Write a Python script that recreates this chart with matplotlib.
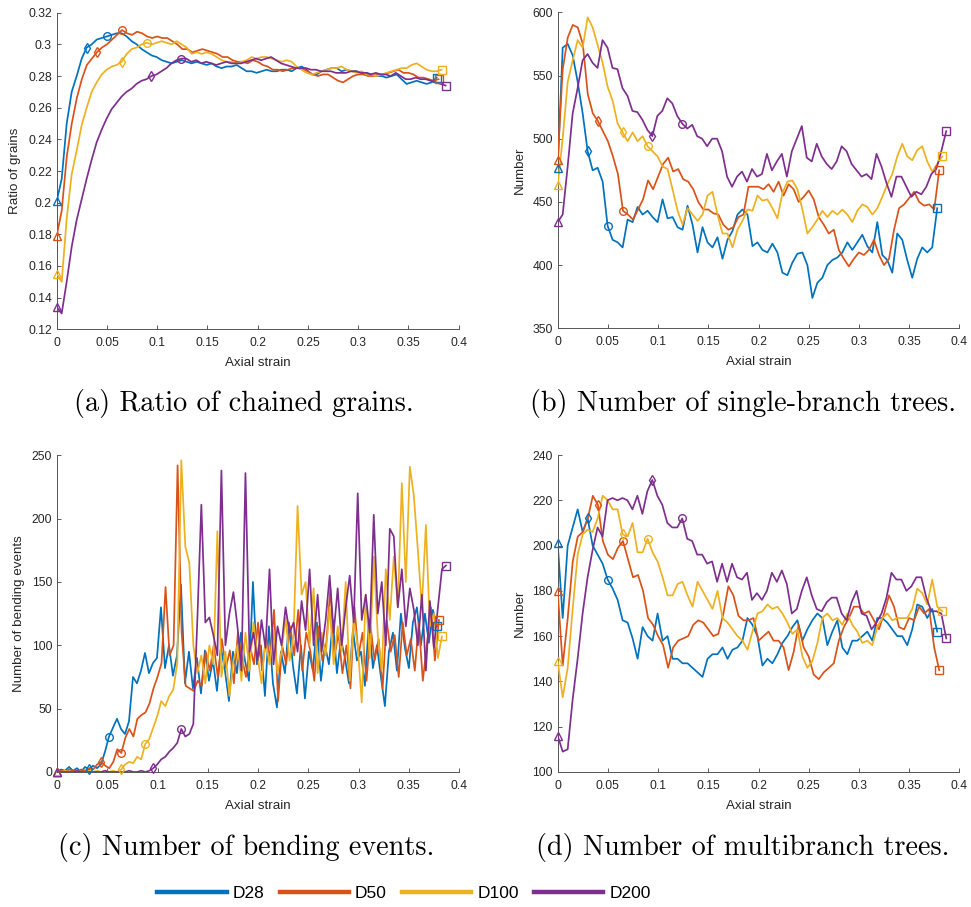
import numpy as np
import matplotlib
matplotlib.use('Agg')
import matplotlib.pyplot as plt
from matplotlib.lines import Line2D

# ---------------- data ----------------
series_names = ['D28', 'D50', 'D100', 'D200']
colors = ['#0072BD', '#D95319', '#EDB120', '#7E2F8E']
end_strain = [0.378, 0.380, 0.383, 0.387]
diamond_strain = [0.030, 0.042, 0.063, 0.095]
circle_strain = [0.050, 0.066, 0.088, 0.122]

# (a) ratio of chained grains
ratio_D28 = [0.201,0.215,0.250,0.270,0.280,0.291,0.298,0.300,0.303,0.304,
             0.305,0.306,0.307,0.307,0.305,0.302,0.300,0.297,0.295,0.293,
             0.292,0.290,0.289,0.288,0.289,0.290,0.289,0.288,0.289,0.288,
             0.287,0.288,0.286,0.285,0.286,0.286,0.287,0.285,0.283,0.283,
             0.282,0.283,0.284,0.283,0.283,0.284,0.284,0.283,0.285,0.286,
             0.284,0.281,0.281,0.283,0.284,0.285,0.285,0.283,0.284,0.283,
             0.283,0.282,0.282,0.281,0.280,0.280,0.279,0.280,0.281,0.278,
             0.275,0.276,0.277,0.276,0.275,0.276,0.279]
ratio_D50 = [0.179,0.195,0.229,0.250,0.266,0.278,0.287,0.291,0.295,0.298,
             0.300,0.303,0.306,0.309,0.307,0.306,0.308,0.307,0.305,0.304,
             0.305,0.304,0.304,0.302,0.300,0.297,0.297,0.295,0.296,0.297,
             0.296,0.295,0.294,0.292,0.292,0.290,0.289,0.289,0.288,0.290,
             0.289,0.287,0.286,0.284,0.284,0.283,0.284,0.285,0.285,0.284,
             0.283,0.281,0.280,0.281,0.281,0.279,0.277,0.276,0.278,0.280,
             0.281,0.281,0.280,0.280,0.281,0.281,0.282,0.283,0.284,0.282,
             0.282,0.281,0.279,0.279,0.278,0.277,0.278]
ratio_D100 = [0.155,0.150,0.190,0.218,0.233,0.249,0.260,0.270,0.276,0.281,
              0.284,0.286,0.287,0.289,0.294,0.297,0.298,0.300,0.301,0.300,
              0.301,0.302,0.301,0.300,0.302,0.300,0.298,0.294,0.295,0.294,
              0.295,0.294,0.292,0.290,0.289,0.289,0.288,0.289,0.290,0.292,
              0.291,0.292,0.292,0.291,0.290,0.289,0.290,0.289,0.286,0.284,
              0.282,0.281,0.282,0.283,0.284,0.285,0.285,0.286,0.284,0.283,
              0.282,0.283,0.281,0.281,0.280,0.281,0.282,0.283,0.284,0.285,
              0.285,0.287,0.288,0.286,0.284,0.283,0.283,0.284]
ratio_D200 = [0.134,0.130,0.150,0.172,0.189,0.202,0.215,0.227,0.238,0.246,
              0.253,0.259,0.263,0.267,0.270,0.272,0.275,0.277,0.278,0.280,
              0.281,0.283,0.285,0.288,0.290,0.291,0.291,0.289,0.290,0.288,
              0.289,0.288,0.287,0.288,0.289,0.288,0.288,0.288,0.289,0.290,
              0.291,0.290,0.291,0.292,0.290,0.288,0.287,0.286,0.285,0.285,
              0.285,0.284,0.284,0.283,0.283,0.283,0.282,0.282,0.282,0.283,
              0.283,0.282,0.282,0.281,0.282,0.281,0.281,0.280,0.282,0.280,
              0.278,0.278,0.279,0.278,0.278,0.277,0.276,0.275,0.274]

# (b) number of single-branch trees
single_D28 = [477,572,575,566,545,520,490,475,477,466,
              431,420,418,414,436,434,446,440,443,438,
              434,452,437,438,430,428,447,432,410,430,
              418,414,422,405,420,427,440,444,440,415,
              418,412,410,417,410,394,392,402,409,410,
              400,374,386,390,400,404,406,410,418,412,
              418,424,415,410,434,408,404,394,425,420,
              404,390,405,414,410,414,445]
single_D50 = [483,555,580,590,588,575,535,520,514,506,
              498,486,472,443,440,436,444,452,467,460,
              470,480,485,474,476,468,466,460,450,444,
              444,441,440,432,428,430,438,440,462,462,
              462,460,464,458,466,455,464,460,450,454,
              459,452,438,432,425,428,412,405,399,405,
              410,408,412,420,408,400,405,428,445,448,
              453,458,450,447,448,444,475]
single_D100 = [463,500,545,562,578,572,596,588,574,560,
               541,530,512,505,498,505,498,502,494,490,
               486,478,476,460,443,432,445,440,435,440,
               455,458,440,425,425,414,428,435,444,443,
               455,451,452,445,437,457,466,467,460,444,
               425,430,436,443,438,443,440,444,440,434,
               443,448,446,440,445,454,464,472,486,496,
               486,483,491,494,482,474,480,486]
single_D200 = [434,440,478,520,540,562,567,560,556,578,
               572,556,555,540,534,522,521,515,507,502,
               518,522,532,528,518,512,508,511,502,500,
               494,500,500,490,470,462,470,474,466,476,
               470,472,488,475,482,488,470,490,500,510,
               485,482,496,486,480,476,482,494,490,480,
               475,470,472,468,488,478,465,454,470,470,
               462,454,458,456,462,472,476,490,506]

# (c) number of bending events
bend_D28 = [0,2,1,4,1,3,0,4,2,5,
            3,6,16,28,35,42,34,30,40,75,
            70,80,94,78,86,90,130,82,100,76,
            92,148,70,95,66,90,62,96,72,88,
            64,98,80,56,95,78,110,88,72,150,
            85,100,60,115,70,51,95,78,118,84,
            62,100,58,95,80,118,72,100,85,120,
            78,105,90,70,112,88,95,68,120,82,
            100,75,52,95,110,80,125,98,82,118,
            130,100,125,102,128,115]
bend_D50 = [0,1,0,2,1,0,2,1,3,2,
            6,8,5,3,8,18,15,27,34,28,
            42,45,47,54,66,75,86,146,92,100,
            242,110,68,66,64,72,68,95,80,100,
            75,105,82,96,70,110,90,75,100,85,
            118,80,105,90,128,56,100,85,115,92,
            128,80,110,96,72,115,88,102,145,90,
            110,78,100,66,130,92,110,72,115,88,
            105,66,120,95,108,75,118,92,105,80,
            118,72,100,130,88,120]
bend_D100 = [0,0,1,0,0,1,0,0,1,0,
             1,0,1,0,1,0,2,6,8,7,
             12,10,22,26,35,44,56,52,60,65,
             86,246,178,165,100,78,92,70,100,85,
             190,75,95,60,88,100,72,110,80,118,
             92,70,105,85,112,78,95,122,88,108,
             210,140,150,100,145,78,110,92,130,85,
             115,95,150,72,120,100,55,140,90,170,
             108,80,160,120,170,130,228,150,241,218,
             175,130,195,115,125,90,107]
bend_D200 = [0,0,0,0,0,1,0,0,0,0,
             0,0,1,0,0,0,0,0,1,0,
             0,1,0,1,3,6,10,12,16,19,
             23,34,28,30,38,120,211,118,122,108,
             92,238,100,125,142,115,80,236,95,110,
             88,120,98,160,85,115,100,130,110,118,
             95,135,112,160,100,140,95,120,155,110,
             145,100,130,155,118,220,120,140,110,203,
             125,150,100,192,186,130,160,115,145,128,
             100,140,80,135,98,130,160,163]

# (d) number of multibranch trees
multi_D28 = [201,168,200,208,216,206,212,200,196,192,
             185,181,176,167,166,159,150,164,160,158,
             170,158,160,150,150,148,148,146,144,142,
             150,152,152,155,150,154,155,158,168,165,
             160,147,150,148,152,157,160,164,167,158,
             163,167,170,168,156,162,167,155,152,158,
             158,160,162,158,168,168,166,163,160,160,
             156,163,174,173,168,172,162]
multi_D50 = [180,147,168,193,204,206,212,222,218,202,
             196,194,199,202,194,186,187,180,168,165,
             160,156,146,155,158,159,160,165,167,166,
             163,160,161,170,182,178,169,167,167,168,
             158,160,162,158,158,155,145,153,165,155,
             151,143,141,144,146,148,158,164,168,173,
             173,170,171,167,163,170,178,173,164,163,
             168,167,173,170,172,155,145]
multi_D100 = [149,133,146,172,196,205,207,206,212,222,
              220,216,216,205,204,210,197,197,203,197,
              193,186,178,178,183,184,178,173,184,180,
              176,172,180,168,166,163,160,158,154,162,
              170,171,174,172,173,170,166,161,163,151,
              146,149,157,168,170,167,168,165,170,165,
              162,157,158,156,164,168,170,167,168,168,
              168,172,181,179,174,185,173,171]
multi_D200 = [116,109,110,132,150,170,186,198,208,204,
              220,221,220,221,220,216,222,214,224,229,
              222,218,210,208,208,212,203,202,196,196,
              192,193,184,192,184,192,186,185,188,176,
              179,176,180,188,184,189,183,170,172,180,
              186,178,172,171,175,177,177,170,167,175,
              180,170,169,163,166,170,177,188,185,185,
              180,182,186,186,177,171,171,170,159]

x_ticks = [0, 0.05, 0.1, 0.15, 0.2, 0.25, 0.3, 0.35, 0.4]
x_tick_labels = ['0', '0.05', '0.1', '0.15', '0.2', '0.25', '0.3', '0.35', '0.4']

panels = [
    dict(data=[ratio_D28, ratio_D50, ratio_D100, ratio_D200], ylabel='Ratio of grains',
         ylim=(0.12, 0.32), yticks=[0.12,0.14,0.16,0.18,0.2,0.22,0.24,0.26,0.28,0.3,0.32],
         yticklabels=['0.12','0.14','0.16','0.18','0.2','0.22','0.24','0.26','0.28','0.3','0.32'],
         caption='(a) Ratio of chained grains.'),
    dict(data=[single_D28, single_D50, single_D100, single_D200], ylabel='Number',
         ylim=(350, 600), yticks=[350,400,450,500,550,600],
         yticklabels=['350','400','450','500','550','600'],
         caption='(b) Number of single-branch trees.'),
    dict(data=[bend_D28, bend_D50, bend_D100, bend_D200], ylabel='Number of bending events',
         ylim=(0, 250), yticks=[0,50,100,150,200,250],
         yticklabels=['0','50','100','150','200','250'],
         caption='(c) Number of bending events.'),
    dict(data=[multi_D28, multi_D50, multi_D100, multi_D200], ylabel='Number',
         ylim=(100, 240), yticks=[100,120,140,160,180,200,220,240],
         yticklabels=['100','120','140','160','180','200','220','240'],
         caption='(d) Number of multibranch trees.'),
]

# ---------------- layout ----------------
W, H = 971, 907
fig = plt.figure(figsize=(W/100, H/100), dpi=100)

def rect(l, r, t, b):
    return [l/W, 1 - b/H, (r - l)/W, (b - t)/H]

rects = [rect(56.7, 458.7, 12.7, 329.3), rect(557.7, 959.3, 12.3, 328.3),
         rect(57.0, 459.0, 455.3, 772.0), rect(557.7, 959.3, 455.0, 772.0)]
caption_xy = [(244, 403), (743, 403), (246, 847), (743, 847)]

sans = ['Liberation Sans', 'DejaVu Sans']
txtc = '#262626'

for p, r, cxy in zip(panels, rects, caption_xy):
    ax = fig.add_axes(r)
    for i, y in enumerate(p['data']):
        y = np.asarray(y, dtype=float)
        x = np.linspace(0, end_strain[i], len(y))
        ax.plot(x, y, color=colors[i], lw=1.25, zorder=2 + i)
        idx = [0, int(np.argmin(np.abs(x - diamond_strain[i]))),
               int(np.argmin(np.abs(x - circle_strain[i]))), len(y) - 1]
        for m, k in zip(['^', 'd', 'o', 's'], idx):
            ax.plot(x[k], y[k], marker=m, ms=5.5, mfc='none', mec=colors[i],
                    mew=1.0, ls='none', clip_on=False, zorder=6 + i)
    ax.set_xlim(0, 0.4)
    ax.set_ylim(*p['ylim'])
    ax.set_xticks(x_ticks)
    ax.set_xticklabels(x_tick_labels, family=sans, fontsize=8.7, color=txtc)
    ax.set_yticks(p['yticks'])
    ax.set_yticklabels(p['yticklabels'], family=sans, fontsize=8.7, color=txtc)
    ax.tick_params(direction='in', length=3, width=0.6, color='#404040')
    ax.tick_params(axis='x', pad=5.5)
    ax.tick_params(axis='y', pad=3.5)
    for s in ['top', 'right']:
        ax.spines[s].set_visible(False)
    for s in ['left', 'bottom']:
        ax.spines[s].set_color('#555555')
        ax.spines[s].set_linewidth(0.7)
    ax.set_xlabel('Axial strain', family=sans, fontsize=9.6, color=txtc, labelpad=6)
    ax.set_ylabel(p['ylabel'], family=sans, fontsize=9.6, color=txtc, labelpad=5)
    fig.text(cxy[0]/W, 1 - cxy[1]/H, p['caption'], ha='center', va='center',
             family='cmr10', fontsize=20.3, color='black')

handles = [Line2D([], [], color=c, lw=3.2) for c in colors]
fig.legend(handles, series_names, loc='center', bbox_to_anchor=(404/W, 1 - 893/H),
           ncol=4, frameon=False, handlelength=4.0, handletextpad=0.35,
           columnspacing=0.86, prop={'family': sans, 'size': 12.5})

fig.savefig('out.png', dpi=100)
